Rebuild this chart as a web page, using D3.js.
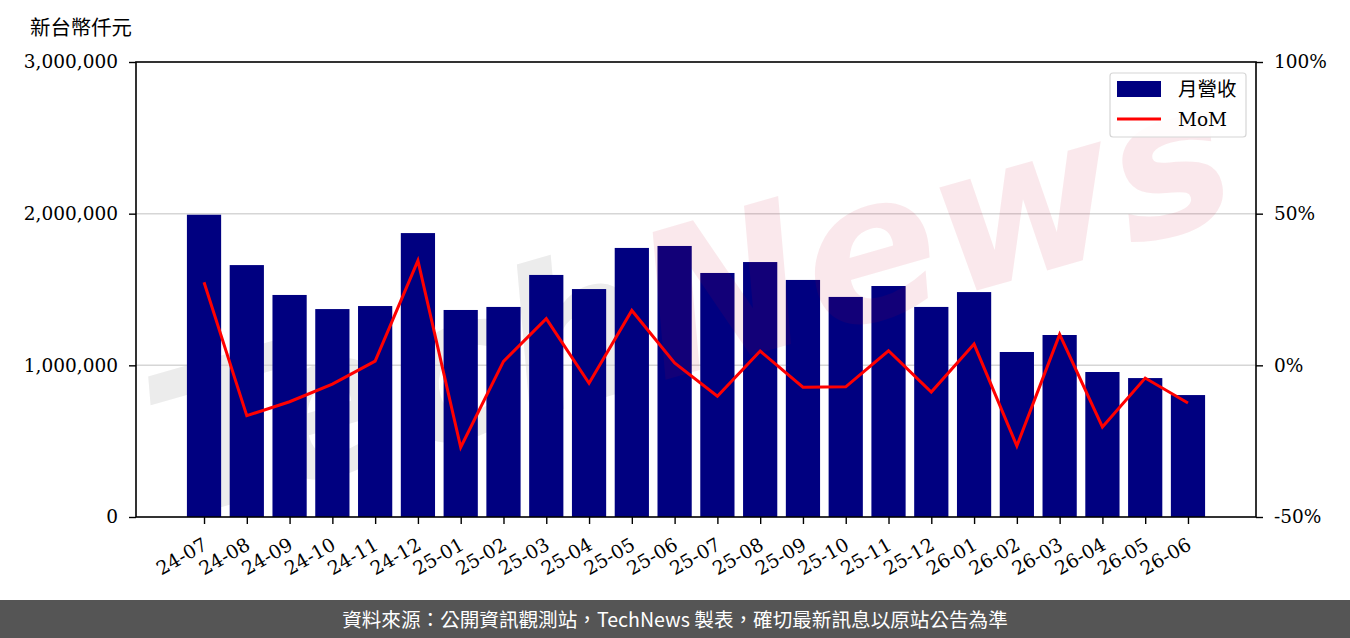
<!DOCTYPE html>
<html><head><meta charset="utf-8">
<script src="https://cdn.jsdelivr.net/npm/d3@7"></script>
<style>body{margin:0;background:#fff} svg{display:block}</style>
</head><body><svg id="c" width="1350" height="638"></svg>
<script>
const categories = ["24-07","24-08","24-09","24-10","24-11","24-12","25-01","25-02","25-03","25-04","25-05","25-06","25-07","25-08","25-09","25-10","25-11","25-12","26-01","26-02","26-03","26-04","26-05","26-06"];
const revenue = [1993000,1661000,1464000,1371000,1391000,1872000,1365000,1385000,1596000,1503000,1774000,1787000,1609000,1681000,1563000,1451000,1523000,1385000,1483000,1088000,1200000,956000,916000,804000];
const mom = [27.4,-16.6,-12.0,-6.2,1.4,34.5,-27.0,1.3,15.4,-5.9,18.1,0.8,-10.2,4.7,-7.2,-7.1,4.8,-8.8,7.0,-26.6,10.2,-20.3,-4.2,-12.4];
const leftTicks = [0,1000000,2000000,3000000];
const rightTicks = [-50,0,50,100];
const seriesNames = ["月營收","MoM"];
const unitLabel = "新台幣仟元";
const footerText = "資料來源：公開資訊觀測站，TechNews 製表，確切最新訊息以原站公告為準";

const svg = d3.select("#c");
const L = 136, R = 1256, T = 62, B = 517;
const serif = "'DejaVu Serif', serif";
const cjk = "'Noto Sans CJK TC', sans-serif";

const n = categories.length;
const pad = (n - 1 + 0.8) * 0.05;
const x = d3.scaleLinear().domain([-0.4 - pad, n - 1 + 0.4 + pad]).range([L, R]);
const y = d3.scaleLinear().domain([0, 3000000]).range([B, T]);
const y2 = d3.scaleLinear().domain([-50, 100]).range([B, T]);

// watermark (grey part behind the bars)
const wmTransform = "translate(690,300) rotate(-16)";
function wmText(g) {
  return g.append("text").attr("text-anchor", "middle").attr("y", 70)
    .attr("font-family", "'DejaVu Sans', sans-serif").attr("font-weight", "bold")
    .attr("font-style", "italic").attr("font-size", 200);
}
const wm1 = wmText(svg.append("g").attr("transform", wmTransform));
wm1.append("tspan").text("Tech").attr("fill", "#ececec");
wm1.append("tspan").text("News").attr("fill", "none");

// grid
svg.append("g").selectAll("line").data(leftTicks.slice(1, -1)).join("line")
  .attr("x1", L).attr("x2", R).attr("y1", d => y(d)).attr("y2", d => y(d))
  .attr("stroke", "#d6d6d6").attr("stroke-width", 1.5);

// bars
svg.append("g").selectAll("rect").data(revenue).join("rect")
  .attr("x", (d, i) => x(i - 0.4)).attr("width", x(0.8) - x(0))
  .attr("y", d => y(d)).attr("height", d => B - y(d))
  .attr("fill", "#000080");

// line
svg.append("path").datum(mom)
  .attr("d", d3.line().x((d, i) => x(i)).y(d => y2(d)))
  .attr("fill", "none").attr("stroke", "#ff0000").attr("stroke-width", 3)
  .attr("stroke-linejoin", "miter");

// watermark (pink part over the bars)
const wm2 = wmText(svg.append("g").attr("transform", wmTransform));
wm2.append("tspan").text("Tech").attr("fill", "none");
wm2.append("tspan").text("News").attr("fill", "rgba(200,0,40,0.09)");

// axes
const ax = svg.append("g").attr("transform", `translate(${L},0)`)
  .call(d3.axisLeft(y).tickValues(leftTicks).tickFormat(d3.format(",")).tickSize(7).tickPadding(11));
const ax2 = svg.append("g").attr("transform", `translate(${R},0)`)
  .call(d3.axisRight(y2).tickValues(rightTicks).tickFormat(d => d + "%").tickSize(7).tickPadding(11));
const axb = svg.append("g").attr("transform", `translate(0,${B})`)
  .call(d3.axisBottom(x).tickValues(d3.range(n)).tickFormat(i => categories[i]).tickSize(7));
[ax, ax2, axb].forEach(g => {
  g.select(".domain").remove();
  g.selectAll(".tick line").attr("stroke", "#000").attr("stroke-width", 1.4);
  g.selectAll("text").attr("font-family", serif).attr("font-size", 18.5).attr("fill", "#000");
});
axb.selectAll("text").attr("text-anchor", "end").attr("dy", null).attr("y", null)
  .attr("font-size", 19)
  .attr("transform", "translate(-3,19) rotate(-30)").attr("dominant-baseline", "hanging");

svg.append("rect").attr("x", L).attr("y", T).attr("width", R - L).attr("height", B - T)
  .attr("fill", "none").attr("stroke", "#000").attr("stroke-width", 1.6);

// unit label
svg.append("text").attr("x", 30).attr("y", 35).text(unitLabel)
  .attr("font-family", cjk).attr("font-size", 20.4).attr("fill", "#000");

// legend
const lg = svg.append("g");
lg.append("rect").attr("x", 1110).attr("y", 73).attr("width", 136).attr("height", 64).attr("rx", 3)
  .attr("fill", "rgba(255,255,255,0.85)").attr("stroke", "#d6d6d6").attr("stroke-width", 1.2);
lg.append("rect").attr("x", 1117).attr("y", 81).attr("width", 44).attr("height", 16).attr("fill", "#000080");
lg.append("line").attr("x1", 1117).attr("x2", 1161).attr("y1", 119).attr("y2", 119)
  .attr("stroke", "#ff0000").attr("stroke-width", 3);
lg.append("text").attr("x", 1178).attr("y", 96).text(seriesNames[0])
  .attr("font-family", cjk).attr("font-size", 19.5);
lg.append("text").attr("x", 1178).attr("y", 126).text(seriesNames[1])
  .attr("font-family", serif).attr("font-size", 18.5);

// footer
svg.append("rect").attr("x", 0).attr("y", 600).attr("width", 1350).attr("height", 38).attr("fill", "#555555");
svg.append("text").attr("x", 675).attr("y", 627).attr("text-anchor", "middle").text(footerText)
  .attr("font-family", cjk).attr("font-size", 19.6).attr("fill", "#fff");
</script></body></html>
